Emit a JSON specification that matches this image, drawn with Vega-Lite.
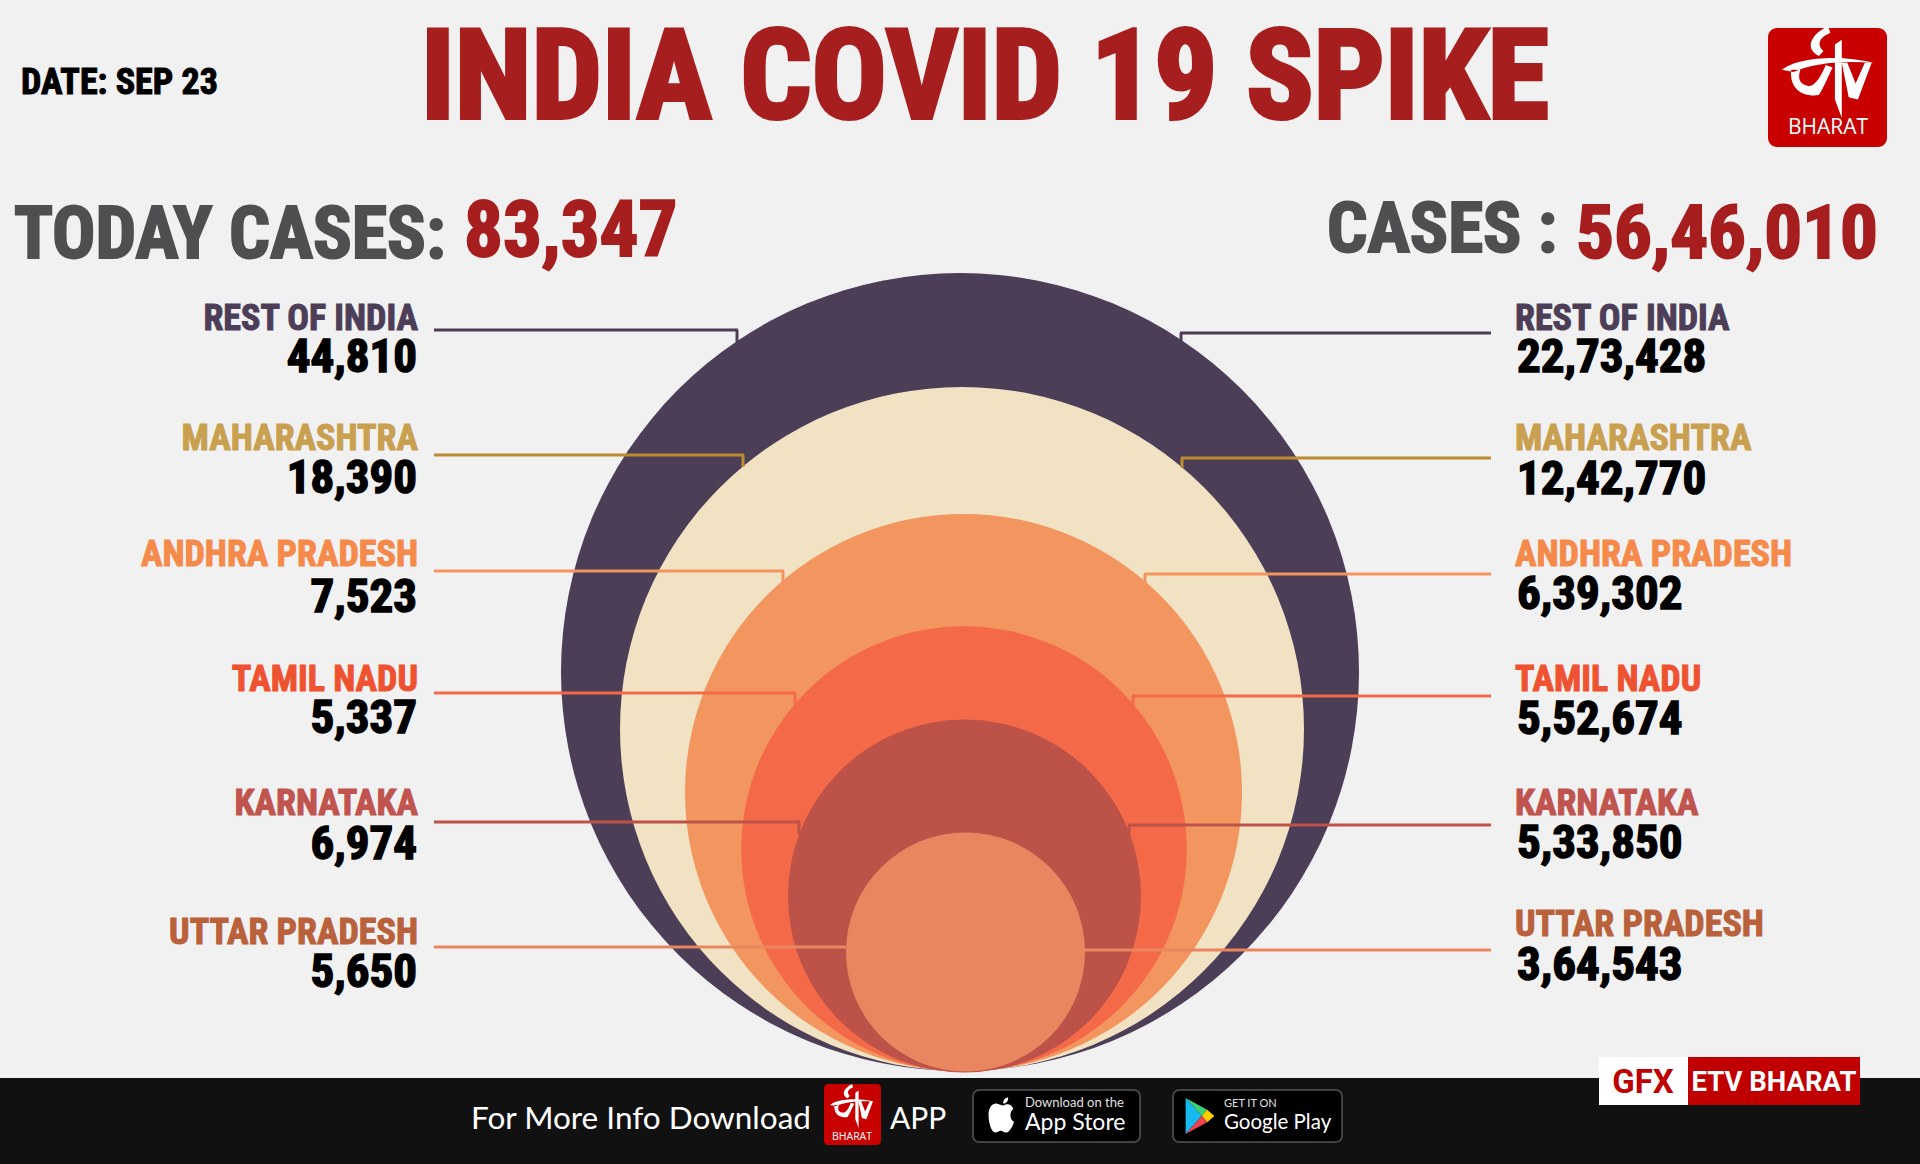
{
"$schema":"https://vega.github.io/schema/vega-lite/v6.json",
"autosize":{"type":"fit","contains":"padding"},"width":1920,"height":1164,"padding":0,
"background":"#f1f1f2","config":{"view":{"stroke":null}},
"datasets":{"states":[
{"state":"REST OF INDIA","today":44810,"total":2273428,"totalLabel":"22,73,428"},
{"state":"MAHARASHTRA","today":18390,"total":1242770,"totalLabel":"12,42,770"},
{"state":"ANDHRA PRADESH","today":7523,"total":639302,"totalLabel":"6,39,302"},
{"state":"TAMIL NADU","today":5337,"total":552674,"totalLabel":"5,52,674"},
{"state":"KARNATAKA","today":6974,"total":533850,"totalLabel":"5,33,850"},
{"state":"UTTAR PRADESH","today":5650,"total":364543,"totalLabel":"3,64,543"}]},
"data":{"name":"states"},
"resolve":{"scale":{"x":"independent","y":"independent","size":"independent","color":"independent"}},
"layer":[
{"mark":{"type":"point","filled":true,"shape":"circle","opacity":1},"encoding":{
"x":{"field":"total","type":"quantitative","axis":null,"scale":{"zero":false,"nice":false,"domain":[364543,533850,552674,639302,1242770,2273428],"range":[965.5,964.5,964,963.5,962,960]}},
"y":{"field":"total","type":"quantitative","axis":null,"scale":{"zero":false,"nice":false,"domain":[364543,533850,552674,639302,1242770,2273428],"range":[952,896,849,792.5,729,672]}},
"size":{"field":"total","type":"quantitative","legend":null,"scale":{"zero":false,"nice":false,"domain":[364543,533850,552674,639302,1242770,2273428],"range":[57121,124609,198470,310249,467856,636804]}},
"color":{"field":"state","type":"nominal","legend":null,"scale":{"domain":["REST OF INDIA","MAHARASHTRA","ANDHRA PRADESH","TAMIL NADU","KARNATAKA","UTTAR PRADESH"],"range":["#4d3e58","#f2e2c4","#f3955f","#f46a48","#bd5248","#e98660"]}}}},

{"mark":{"type":"rule","strokeWidth":3},"encoding":{
"x":{"field":"total","type":"quantitative","axis":null,"scale":{"zero":false,"nice":false,"domain":[0,364543,533850,552674,639302,1242770,2273428],"range":[434,846,800,796,784,744,738]}},
"x2":{"datum":0},
"y":{"field":"total","type":"quantitative","axis":null,"scale":{"zero":false,"nice":false,"domain":[364543,533850,552674,639302,1242770,2273428],"range":[947,822,693,571,455,330]}},
"color":{"field":"state","type":"nominal","legend":null,"scale":{"domain":["REST OF INDIA","MAHARASHTRA","ANDHRA PRADESH","TAMIL NADU","KARNATAKA","UTTAR PRADESH"],"range":["#4d3e58","#bd8c30","#f3955f","#f46a48","#bd5248","#e98660"]}}}},
{"transform":[{"filter":"datum.state !== 'UTTAR PRADESH'"}],"mark":{"type":"tick","orient":"vertical","size":12,"thickness":3,"yOffset":6,"opacity":1},"encoding":{
"x":{"field":"total","type":"quantitative","axis":null,"scale":{"zero":false,"nice":false,"domain":[533850,552674,639302,1242770,2273428],"range":[799,795,783,743,737]}},
"y":{"field":"total","type":"quantitative","axis":null,"scale":{"zero":false,"nice":false,"domain":[533850,552674,639302,1242770,2273428],"range":[822,693,571,455,330]}},
"color":{"field":"state","type":"nominal","legend":null,"scale":{"domain":["REST OF INDIA","MAHARASHTRA","ANDHRA PRADESH","TAMIL NADU","KARNATAKA"],"range":["#4d3e58","#bd8c30","#f3955f","#f46a48","#bd5248"]}}}},
{"mark":{"type":"rule","strokeWidth":3},"encoding":{
"x":{"field":"total","type":"quantitative","axis":null,"scale":{"zero":false,"nice":false,"domain":[0,364543,533850,552674,639302,1242770,2273428],"range":[1491,1084,1128,1132,1144,1181,1180]}},
"x2":{"datum":0},
"y":{"field":"total","type":"quantitative","axis":null,"scale":{"zero":false,"nice":false,"domain":[364543,533850,552674,639302,1242770,2273428],"range":[950,825,696,574,458,333]}},
"color":{"field":"state","type":"nominal","legend":null,"scale":{"domain":["REST OF INDIA","MAHARASHTRA","ANDHRA PRADESH","TAMIL NADU","KARNATAKA","UTTAR PRADESH"],"range":["#4d3e58","#bd8c30","#f3955f","#f46a48","#bd5248","#e98660"]}}}},
{"transform":[{"filter":"datum.state !== 'UTTAR PRADESH'"}],"mark":{"type":"tick","orient":"vertical","size":10,"thickness":3,"yOffset":5,"opacity":1},"encoding":{
"x":{"field":"total","type":"quantitative","axis":null,"scale":{"zero":false,"nice":false,"domain":[533850,552674,639302,1242770,2273428],"range":[1129,1133,1145,1182,1181]}},
"y":{"field":"total","type":"quantitative","axis":null,"scale":{"zero":false,"nice":false,"domain":[533850,552674,639302,1242770,2273428],"range":[825,696,574,458,333]}},
"color":{"field":"state","type":"nominal","legend":null,"scale":{"domain":["REST OF INDIA","MAHARASHTRA","ANDHRA PRADESH","TAMIL NADU","KARNATAKA"],"range":["#4d3e58","#bd8c30","#f3955f","#f46a48","#bd5248"]}}}},

{"mark":{"type":"text","font":"'Roboto Condensed',Roboto,sans-serif","fontWeight":"bold","fontSize":36,"align":"right","baseline":"alphabetic","strokeWidth":1},"encoding":{
"x":{"datum":418,"type":"quantitative","axis":null,"scale":{"domain":[0,1920],"nice":false,"zero":false}},
"y":{"field":"total","type":"quantitative","axis":null,"scale":{"zero":false,"nice":false,"domain":[364543,533850,552674,639302,1242770,2273428],"range":[944,815,691,566,450,330]}},
"text":{"field":"state"},
"color":{"field":"state","type":"nominal","legend":null,"scale":{"domain":["REST OF INDIA","MAHARASHTRA","ANDHRA PRADESH","TAMIL NADU","KARNATAKA","UTTAR PRADESH"],"range":["#4d3e58","#c9a04f","#f58a4a","#ee5230","#c0544e","#b9613b"]}},
"stroke":{"field":"state","type":"nominal","legend":null,"scale":{"domain":["REST OF INDIA","MAHARASHTRA","ANDHRA PRADESH","TAMIL NADU","KARNATAKA","UTTAR PRADESH"],"range":["#4d3e58","#c9a04f","#f58a4a","#ee5230","#c0544e","#b9613b"]}}}},
{"mark":{"type":"text","font":"'Roboto Condensed',Roboto,sans-serif","fontWeight":"bold","fontSize":36,"align":"left","baseline":"alphabetic","strokeWidth":1},"encoding":{
"x":{"datum":1515,"type":"quantitative","axis":null,"scale":{"domain":[0,1920],"nice":false,"zero":false}},
"y":{"field":"total","type":"quantitative","axis":null,"scale":{"zero":false,"nice":false,"domain":[364543,533850,552674,639302,1242770,2273428],"range":[936,815,691,566,450,330]}},
"text":{"field":"state"},
"color":{"field":"state","type":"nominal","legend":null,"scale":{"domain":["REST OF INDIA","MAHARASHTRA","ANDHRA PRADESH","TAMIL NADU","KARNATAKA","UTTAR PRADESH"],"range":["#4d3e58","#c9a04f","#f58a4a","#ee5230","#c0544e","#b9613b"]}},
"stroke":{"field":"state","type":"nominal","legend":null,"scale":{"domain":["REST OF INDIA","MAHARASHTRA","ANDHRA PRADESH","TAMIL NADU","KARNATAKA","UTTAR PRADESH"],"range":["#4d3e58","#c9a04f","#f58a4a","#ee5230","#c0544e","#b9613b"]}}}},
{"mark":{"type":"text","font":"'Roboto Condensed',Roboto,sans-serif","fontWeight":"bold","fontSize":47,"align":"right","baseline":"alphabetic","color":"#000000","stroke":"#000000","strokeWidth":1.5},"encoding":{
"x":{"datum":417,"type":"quantitative","axis":null,"scale":{"domain":[0,1920],"nice":false,"zero":false}},
"y":{"field":"total","type":"quantitative","axis":null,"scale":{"zero":false,"nice":false,"domain":[364543,533850,552674,639302,1242770,2273428],"range":[987,859,733,612,493,372]}},
"text":{"field":"today","type":"quantitative","format":","}}},
{"mark":{"type":"text","font":"'Roboto Condensed',Roboto,sans-serif","fontWeight":"bold","fontSize":47,"align":"left","baseline":"alphabetic","color":"#000000","stroke":"#000000","strokeWidth":1.5},"encoding":{
"x":{"datum":1517,"type":"quantitative","axis":null,"scale":{"domain":[0,1920],"nice":false,"zero":false}},
"y":{"field":"total","type":"quantitative","axis":null,"scale":{"zero":false,"nice":false,"domain":[364543,533850,552674,639302,1242770,2273428],"range":[980,858,734,609,494,372]}},
"text":{"field":"totalLabel"}}},

{"data":{"values":[{"text":"INDIA COVID 19 SPIKE"}]},"mark":{"type":"text","font":"'Roboto Condensed',Roboto,sans-serif","fontWeight":"bold","fontSize":125,"align":"center","baseline":"alphabetic","color":"#a61e1e","stroke":"#a61e1e","strokeWidth":4},"encoding":{"x":{"datum":985,"type":"quantitative","axis":null,"scale":{"domain":[0,1920],"nice":false,"zero":false}},"y":{"datum":118,"type":"quantitative","axis":null,"scale":{"domain":[1164,0],"nice":false,"zero":false}},"text":{"field":"text"}}},
{"data":{"values":[{"text":"DATE: SEP 23"}]},"mark":{"type":"text","font":"'Roboto Condensed',Roboto,sans-serif","fontWeight":"bold","fontSize":36,"align":"left","baseline":"alphabetic","color":"#000000","stroke":"#000000","strokeWidth":1},"encoding":{"x":{"datum":21,"type":"quantitative","axis":null,"scale":{"domain":[0,1920],"nice":false,"zero":false}},"y":{"datum":94,"type":"quantitative","axis":null,"scale":{"domain":[1164,0],"nice":false,"zero":false}},"text":{"field":"text"}}},
{"data":{"values":[{"text":"TODAY CASES:"}]},"mark":{"type":"text","font":"'Roboto Condensed',Roboto,sans-serif","fontWeight":"bold","fontSize":72,"align":"left","baseline":"alphabetic","color":"#4f4e50","stroke":"#4f4e50","strokeWidth":2},"encoding":{"x":{"datum":14,"type":"quantitative","axis":null,"scale":{"domain":[0,1920],"nice":false,"zero":false}},"y":{"datum":258,"type":"quantitative","axis":null,"scale":{"domain":[1164,0],"nice":false,"zero":false}},"text":{"field":"text"}}},
{"data":{"values":[{"text":"83,347"}]},"mark":{"type":"text","font":"'Roboto Condensed',Roboto,sans-serif","fontWeight":"bold","fontSize":77,"align":"left","baseline":"alphabetic","color":"#a61e1e","stroke":"#a61e1e","strokeWidth":2},"encoding":{"x":{"datum":464,"type":"quantitative","axis":null,"scale":{"domain":[0,1920],"nice":false,"zero":false}},"y":{"datum":256,"type":"quantitative","axis":null,"scale":{"domain":[1164,0],"nice":false,"zero":false}},"text":{"field":"text"}}},
{"data":{"values":[{"text":"CASES :"}]},"mark":{"type":"text","font":"'Roboto Condensed',Roboto,sans-serif","fontWeight":"bold","fontSize":71,"align":"left","baseline":"alphabetic","color":"#4f4e50","stroke":"#4f4e50","strokeWidth":2},"encoding":{"x":{"datum":1327,"type":"quantitative","axis":null,"scale":{"domain":[0,1920],"nice":false,"zero":false}},"y":{"datum":252,"type":"quantitative","axis":null,"scale":{"domain":[1164,0],"nice":false,"zero":false}},"text":{"field":"text"}}},
{"data":{"values":[{"text":"56,46,010"}]},"mark":{"type":"text","font":"'Roboto Condensed',Roboto,sans-serif","fontWeight":"bold","fontSize":75,"align":"left","baseline":"alphabetic","color":"#a61e1e","stroke":"#a61e1e","strokeWidth":2},"encoding":{"x":{"datum":1576,"type":"quantitative","axis":null,"scale":{"domain":[0,1920],"nice":false,"zero":false}},"y":{"datum":258,"type":"quantitative","axis":null,"scale":{"domain":[1164,0],"nice":false,"zero":false}},"text":{"field":"text"}}},

{"data":{"values":[{"item":"logo"}]},"mark":{"type":"rect","color":"#c80000","cornerRadius":9},"encoding":{"x":{"datum":1768,"type":"quantitative","axis":null,"scale":{"domain":[0,1920],"nice":false,"zero":false}},"x2":{"datum":1887},"y":{"datum":28,"type":"quantitative","axis":null,"scale":{"domain":[1164,0],"nice":false,"zero":false}},"y2":{"datum":147}}},
{"data":{"values":[{"item":"logo glyph"}]},"mark":{"type":"point","filled":true,"opacity":1,"color":"#ffffff","size":8464,"shape":"M0,-1 C-0.4,-0.8 -0.5,-0.5 -0.2,-0.35 L-0.1,-0.45 C-0.25,-0.6 -0.2,-0.75 0.05,-0.85 Z M-1,-0.05 C-0.7,-0.3 0.2,-0.4 1,-0.2 C0.3,-0.25 -0.3,-0.2 -0.75,0 Z M-0.8,-0.05 C-0.85,0.4 -0.5,0.55 -0.2,0.5 C-0.1,0.35 0,0.1 0.1,-0.1 L-0.05,-0.15 C-0.15,0.1 -0.3,0.35 -0.45,0.3 C-0.65,0.25 -0.65,0.1 -0.6,-0.05 Z M0.15,-0.6 L0.3,-0.7 L0.3,1 L0.15,0.6 Z M0.42,-0.2 L0.6,0.25 L0.8,-0.2 L0.95,-0.2 L0.65,0.6 L0.45,0.55 L0.3,-0.2 Z"},"encoding":{"x":{"datum":1828,"type":"quantitative","axis":null,"scale":{"domain":[0,1920],"nice":false,"zero":false}},"y":{"datum":72,"type":"quantitative","axis":null,"scale":{"domain":[1164,0],"nice":false,"zero":false}}}},
{"data":{"values":[{"text":"BHARAT"}]},"mark":{"type":"text","font":"Open Sans","fontSize":21,"align":"center","baseline":"alphabetic","color":"#ffffff"},"encoding":{"x":{"datum":1828,"type":"quantitative","axis":null,"scale":{"domain":[0,1920],"nice":false,"zero":false}},"y":{"datum":134,"type":"quantitative","axis":null,"scale":{"domain":[1164,0],"nice":false,"zero":false}},"text":{"field":"text"}}},

{"data":{"values":[{"item":"footer"}]},"mark":{"type":"rect","color":"#111111"},"encoding":{"x":{"datum":0,"type":"quantitative","axis":null,"scale":{"domain":[0,1920],"nice":false,"zero":false}},"x2":{"datum":1920},"y":{"datum":1078,"type":"quantitative","axis":null,"scale":{"domain":[1164,0],"nice":false,"zero":false}},"y2":{"datum":1164}}},
{"data":{"values":[{"text":"For More Info Download"}]},"mark":{"type":"text","font":"Lato","fontSize":31.5,"align":"left","baseline":"alphabetic","color":"#ffffff"},"encoding":{"x":{"datum":471,"type":"quantitative","axis":null,"scale":{"domain":[0,1920],"nice":false,"zero":false}},"y":{"datum":1129,"type":"quantitative","axis":null,"scale":{"domain":[1164,0],"nice":false,"zero":false}},"text":{"field":"text"}}},
{"data":{"values":[{"item":"small logo"}]},"mark":{"type":"rect","color":"#c80000","cornerRadius":4},"encoding":{"x":{"datum":824,"type":"quantitative","axis":null,"scale":{"domain":[0,1920],"nice":false,"zero":false}},"x2":{"datum":881},"y":{"datum":1084,"type":"quantitative","axis":null,"scale":{"domain":[1164,0],"nice":false,"zero":false}},"y2":{"datum":1145}}},
{"data":{"values":[{"item":"small logo glyph"}]},"mark":{"type":"point","filled":true,"opacity":1,"color":"#ffffff","size":1936,"shape":"M0,-1 C-0.4,-0.8 -0.5,-0.5 -0.2,-0.35 L-0.1,-0.45 C-0.25,-0.6 -0.2,-0.75 0.05,-0.85 Z M-1,-0.05 C-0.7,-0.3 0.2,-0.4 1,-0.2 C0.3,-0.25 -0.3,-0.2 -0.75,0 Z M-0.8,-0.05 C-0.85,0.4 -0.5,0.55 -0.2,0.5 C-0.1,0.35 0,0.1 0.1,-0.1 L-0.05,-0.15 C-0.15,0.1 -0.3,0.35 -0.45,0.3 C-0.65,0.25 -0.65,0.1 -0.6,-0.05 Z M0.15,-0.6 L0.3,-0.7 L0.3,1 L0.15,0.6 Z M0.42,-0.2 L0.6,0.25 L0.8,-0.2 L0.95,-0.2 L0.65,0.6 L0.45,0.55 L0.3,-0.2 Z"},"encoding":{"x":{"datum":852,"type":"quantitative","axis":null,"scale":{"domain":[0,1920],"nice":false,"zero":false}},"y":{"datum":1106,"type":"quantitative","axis":null,"scale":{"domain":[1164,0],"nice":false,"zero":false}}}},
{"data":{"values":[{"text":"BHARAT"}]},"mark":{"type":"text","font":"Open Sans","fontSize":10.5,"align":"center","baseline":"alphabetic","color":"#ffffff"},"encoding":{"x":{"datum":852,"type":"quantitative","axis":null,"scale":{"domain":[0,1920],"nice":false,"zero":false}},"y":{"datum":1140,"type":"quantitative","axis":null,"scale":{"domain":[1164,0],"nice":false,"zero":false}},"text":{"field":"text"}}},
{"data":{"values":[{"text":"APP"}]},"mark":{"type":"text","font":"Lato","fontSize":30,"align":"left","baseline":"alphabetic","color":"#ffffff"},"encoding":{"x":{"datum":890,"type":"quantitative","axis":null,"scale":{"domain":[0,1920],"nice":false,"zero":false}},"y":{"datum":1129,"type":"quantitative","axis":null,"scale":{"domain":[1164,0],"nice":false,"zero":false}},"text":{"field":"text"}}},

{"data":{"values":[{"item":"app store button"}]},"mark":{"type":"rect","color":"#000000","stroke":"#555555","strokeWidth":1.5,"cornerRadius":6},"encoding":{"x":{"datum":973,"type":"quantitative","axis":null,"scale":{"domain":[0,1920],"nice":false,"zero":false}},"x2":{"datum":1140},"y":{"datum":1090,"type":"quantitative","axis":null,"scale":{"domain":[1164,0],"nice":false,"zero":false}},"y2":{"datum":1142}}},
{"data":{"values":[{"item":"google play button"}]},"mark":{"type":"rect","color":"#000000","stroke":"#555555","strokeWidth":1.5,"cornerRadius":6},"encoding":{"x":{"datum":1173,"type":"quantitative","axis":null,"scale":{"domain":[0,1920],"nice":false,"zero":false}},"x2":{"datum":1342},"y":{"datum":1090,"type":"quantitative","axis":null,"scale":{"domain":[1164,0],"nice":false,"zero":false}},"y2":{"datum":1142}}},
{"data":{"values":[{"item":"apple"}]},"mark":{"type":"point","filled":true,"opacity":1,"color":"#ffffff","size":1225,"shape":"M0.08,-0.55 C0.31,-0.7 0.58,-0.6 0.65,-0.35 C0.42,-0.2 0.42,0.25 0.69,0.38 C0.58,0.75 0.38,1 0.23,1 C0.12,1 0.04,0.9 -0.08,0.9 C-0.19,0.9 -0.27,1 -0.38,1 C-0.62,1 -0.77,0.4 -0.77,0 C-0.77,-0.5 -0.5,-0.7 -0.27,-0.65 C-0.15,-0.62 -0.04,-0.55 0.08,-0.55 Z M0.08,-0.65 C0.04,-0.85 0.19,-1 0.35,-1 C0.38,-0.8 0.23,-0.65 0.08,-0.65 Z"},"encoding":{"x":{"datum":1002,"type":"quantitative","axis":null,"scale":{"domain":[0,1920],"nice":false,"zero":false}},"y":{"datum":1115,"type":"quantitative","axis":null,"scale":{"domain":[1164,0],"nice":false,"zero":false}}}},
{"data":{"values":[{"item":"play blue"}]},"mark":{"type":"point","filled":true,"opacity":1,"color":"#16b9f0","size":1296,"shape":"M-0.8,-1 L-0.8,1 L0.1,0 Z"},"encoding":{"x":{"datum":1200,"type":"quantitative","axis":null,"scale":{"domain":[0,1920],"nice":false,"zero":false}},"y":{"datum":1116,"type":"quantitative","axis":null,"scale":{"domain":[1164,0],"nice":false,"zero":false}}}},
{"data":{"values":[{"item":"play green"}]},"mark":{"type":"point","filled":true,"opacity":1,"color":"#3ad07a","size":1296,"shape":"M-0.8,-1 L0.1,0 L0.4,-0.35 Z"},"encoding":{"x":{"datum":1200,"type":"quantitative","axis":null,"scale":{"domain":[0,1920],"nice":false,"zero":false}},"y":{"datum":1116,"type":"quantitative","axis":null,"scale":{"domain":[1164,0],"nice":false,"zero":false}}}},
{"data":{"values":[{"item":"play yellow"}]},"mark":{"type":"point","filled":true,"opacity":1,"color":"#ffce00","size":1296,"shape":"M0.4,-0.35 L0.1,0 L0.4,0.35 L0.8,0 Z"},"encoding":{"x":{"datum":1200,"type":"quantitative","axis":null,"scale":{"domain":[0,1920],"nice":false,"zero":false}},"y":{"datum":1116,"type":"quantitative","axis":null,"scale":{"domain":[1164,0],"nice":false,"zero":false}}}},
{"data":{"values":[{"item":"play red"}]},"mark":{"type":"point","filled":true,"opacity":1,"color":"#ef4150","size":1296,"shape":"M-0.8,1 L0.1,0 L0.4,0.35 Z"},"encoding":{"x":{"datum":1200,"type":"quantitative","axis":null,"scale":{"domain":[0,1920],"nice":false,"zero":false}},"y":{"datum":1116,"type":"quantitative","axis":null,"scale":{"domain":[1164,0],"nice":false,"zero":false}}}},
{"data":{"values":[{"text":"Download on the"}]},"mark":{"type":"text","font":"Lato","fontSize":13,"align":"left","baseline":"alphabetic","color":"#e0e0e0"},"encoding":{"x":{"datum":1025,"type":"quantitative","axis":null,"scale":{"domain":[0,1920],"nice":false,"zero":false}},"y":{"datum":1107,"type":"quantitative","axis":null,"scale":{"domain":[1164,0],"nice":false,"zero":false}},"text":{"field":"text"}}},
{"data":{"values":[{"text":"App Store"}]},"mark":{"type":"text","font":"Lato","fontSize":23,"align":"left","baseline":"alphabetic","color":"#ffffff"},"encoding":{"x":{"datum":1025,"type":"quantitative","axis":null,"scale":{"domain":[0,1920],"nice":false,"zero":false}},"y":{"datum":1130,"type":"quantitative","axis":null,"scale":{"domain":[1164,0],"nice":false,"zero":false}},"text":{"field":"text"}}},
{"data":{"values":[{"text":"GET IT ON"}]},"mark":{"type":"text","font":"Lato","fontSize":11,"align":"left","baseline":"alphabetic","color":"#e0e0e0"},"encoding":{"x":{"datum":1224,"type":"quantitative","axis":null,"scale":{"domain":[0,1920],"nice":false,"zero":false}},"y":{"datum":1107,"type":"quantitative","axis":null,"scale":{"domain":[1164,0],"nice":false,"zero":false}},"text":{"field":"text"}}},
{"data":{"values":[{"text":"Google Play"}]},"mark":{"type":"text","font":"Lato","fontSize":20.5,"align":"left","baseline":"alphabetic","color":"#ffffff"},"encoding":{"x":{"datum":1224,"type":"quantitative","axis":null,"scale":{"domain":[0,1920],"nice":false,"zero":false}},"y":{"datum":1129,"type":"quantitative","axis":null,"scale":{"domain":[1164,0],"nice":false,"zero":false}},"text":{"field":"text"}}},

{"data":{"values":[{"item":"gfx box"}]},"mark":{"type":"rect","color":"#ffffff"},"encoding":{"x":{"datum":1599,"type":"quantitative","axis":null,"scale":{"domain":[0,1920],"nice":false,"zero":false}},"x2":{"datum":1688},"y":{"datum":1057,"type":"quantitative","axis":null,"scale":{"domain":[1164,0],"nice":false,"zero":false}},"y2":{"datum":1105}}},
{"data":{"values":[{"item":"etv box"}]},"mark":{"type":"rect","color":"#c00000"},"encoding":{"x":{"datum":1688,"type":"quantitative","axis":null,"scale":{"domain":[0,1920],"nice":false,"zero":false}},"x2":{"datum":1860},"y":{"datum":1057,"type":"quantitative","axis":null,"scale":{"domain":[1164,0],"nice":false,"zero":false}},"y2":{"datum":1105}}},
{"data":{"values":[{"text":"GFX"}]},"mark":{"type":"text","font":"Roboto","fontWeight":"bold","fontSize":33,"align":"center","baseline":"alphabetic","color":"#c00000"},"encoding":{"x":{"datum":1643,"type":"quantitative","axis":null,"scale":{"domain":[0,1920],"nice":false,"zero":false}},"y":{"datum":1093,"type":"quantitative","axis":null,"scale":{"domain":[1164,0],"nice":false,"zero":false}},"text":{"field":"text"}}},
{"data":{"values":[{"text":"ETV BHARAT"}]},"mark":{"type":"text","font":"Roboto","fontWeight":"bold","fontSize":27.5,"align":"center","baseline":"alphabetic","color":"#ffffff"},"encoding":{"x":{"datum":1774,"type":"quantitative","axis":null,"scale":{"domain":[0,1920],"nice":false,"zero":false}},"y":{"datum":1091,"type":"quantitative","axis":null,"scale":{"domain":[1164,0],"nice":false,"zero":false}},"text":{"field":"text"}}}
]}
